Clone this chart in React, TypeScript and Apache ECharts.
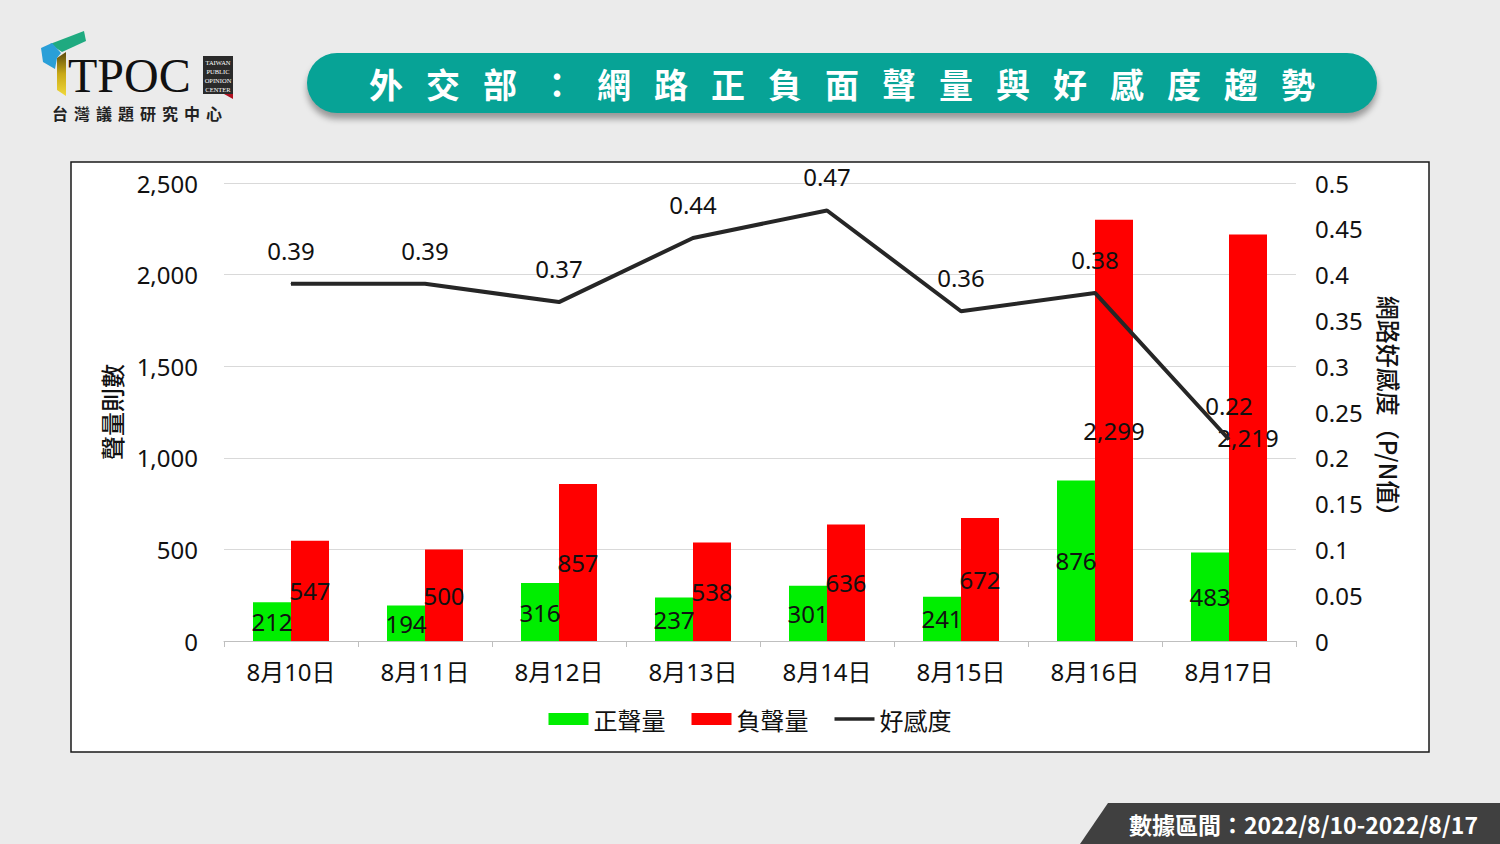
import React, { useEffect, useRef } from "react";
import * as echarts from "echarts";

const categories = ["8月10日", "8月11日", "8月12日", "8月13日", "8月14日", "8月15日", "8月16日", "8月17日"];
const positiveVolume = [212, 194, 316, 237, 301, 241, 876, 483];
const negativeVolume = [547, 500, 857, 538, 636, 672, 2299, 2219];
const favorability = [0.39, 0.39, 0.37, 0.44, 0.47, 0.36, 0.38, 0.22];
const seriesNames = ["正聲量", "負聲量", "好感度"];
const titleText = "外交部：網路正負面聲量與好感度趨勢";
const footerText = "數據區間：2022/8/10-2022/8/17";

const FONT = "'Noto Sans', 'Noto Sans CJK TC', sans-serif";
const CJK = "'Noto Sans CJK TC', 'Noto Sans', sans-serif";

export default function App() {
  const ref = useRef<HTMLDivElement>(null);

  useEffect(() => {
    if (!ref.current) return;
    const chart = echarts.init(ref.current, undefined, { renderer: "svg" });
    const fmt = (v: number) => Number(v).toLocaleString("en-US");
    chart.setOption({
      animation: false,
      backgroundColor: "transparent",
      textStyle: { fontFamily: FONT },
      graphic: [
        {
          type: "rect",
          z: -10,
          shape: { x: 71, y: 162, width: 1358, height: 590 },
          style: { fill: "#ffffff", stroke: "#1a1a1a", lineWidth: 1.5 },
        },
        // logo shapes
        {
          type: "polygon",
          shape: { points: [[50, 44], [84, 31], [86, 41], [62, 52]] },
          style: { fill: "#1faa80" },
        },
        {
          type: "polygon",
          shape: { points: [[41, 48], [52, 43], [61, 53], [57, 58], [55, 69], [43, 62]] },
          style: { fill: "#2a9fd8" },
        },
        {
          type: "polygon",
          shape: { points: [[57, 58], [66, 52], [66, 96], [57, 90]] },
          style: {
            fill: new echarts.graphic.LinearGradient(0, 0, 0, 1, [
              { offset: 0, color: "#5a4a0c" },
              { offset: 0.5, color: "#c9a917" },
              { offset: 1, color: "#f0d83a" },
            ]),
          },
        },
        {
          type: "text",
          style: {
            text: "TPOC",
            x: 68,
            y: 75,
            verticalAlign: "middle",
            fill: "#111111",
            font: "48px 'Liberation Serif', 'DejaVu Serif', serif",
          },
        },
        {
          type: "rect",
          shape: { x: 203, y: 56, width: 30, height: 38 },
          style: { fill: "#2a2a2a" },
        },
        {
          type: "polygon",
          shape: { points: [[224, 94], [233, 94], [233, 99]] },
          style: { fill: "#b01020" },
        },
        {
          type: "text",
          style: {
            text: "TAIWAN\nPUBLIC\nOPINION\nCENTER",
            x: 218,
            y: 58,
            align: "center",
            fill: "#ffffff",
            font: "6.5px 'Liberation Serif', serif",
            lineHeight: 9,
          },
        },
      ],
      legend: {
        bottom: 108,
        left: "center",
        itemWidth: 40,
        itemHeight: 12,
        itemGap: 26,
        textStyle: { fontSize: 24, color: "#111", fontFamily: CJK },
        data: [
          { name: seriesNames[0], icon: "rect" },
          { name: seriesNames[1], icon: "rect" },
          { name: seriesNames[2], icon: "path://M0,0 L40,0 L40,3.5 L0,3.5 Z" },
        ],
      },
      grid: { left: 224, right: 204, top: 183, bottom: 203, containLabel: false },
      xAxis: {
        type: "category",
        data: categories,
        axisLine: { lineStyle: { color: "#bfbfbf", width: 1 } },
        axisTick: { show: true, length: 6, lineStyle: { color: "#bfbfbf" } },
        axisLabel: { fontSize: 24, color: "#111", margin: 18, fontFamily: FONT },
      },
      yAxis: [
        {
          type: "value",
          min: 0,
          max: 2500,
          interval: 500,
          name: "聲量則數",
          nameLocation: "middle",
          nameGap: 101,
          nameRotate: 90,
          nameTextStyle: { fontSize: 24, color: "#111", fontFamily: CJK, fontWeight: 500 },
          axisLine: { show: false },
          axisTick: { show: false },
          axisLabel: { fontSize: 24, color: "#111", margin: 26, formatter: fmt },
          splitLine: { lineStyle: { color: "#d9d9d9", width: 1 } },
        },
        {
          type: "value",
          min: 0,
          max: 0.5,
          interval: 0.05,
          name: "網路好感度（P/N值）",
          nameLocation: "middle",
          nameGap: 82,
          nameRotate: -90,
          nameTextStyle: { fontSize: 24, color: "#111", fontFamily: CJK, fontWeight: 500 },
          axisLine: { show: false },
          axisTick: { show: false },
          axisLabel: {
            fontSize: 24,
            color: "#111",
            margin: 19,
            formatter: (v: number) => String(Math.round(v * 100) / 100),
          },
          splitLine: { show: false },
        },
      ],
      series: [
        {
          name: seriesNames[0],
          type: "bar",
          data: positiveVolume,
          barWidth: 38,
          barGap: "0%",
          itemStyle: { color: "#00ee00" },
          label: { show: true, position: "inside", fontSize: 24, color: "#111", formatter: (p: any) => fmt(p.value) },
        },
        {
          name: seriesNames[1],
          type: "bar",
          data: negativeVolume,
          barWidth: 38,
          barGap: "0%",
          itemStyle: { color: "#ff0000" },
          label: { show: true, position: "inside", fontSize: 24, color: "#111", formatter: (p: any) => fmt(p.value) },
        },
        {
          name: seriesNames[2],
          type: "line",
          yAxisIndex: 1,
          data: favorability,
          symbol: "circle",
          symbolSize: 1,
          showSymbol: true,
          z: 5,
          lineStyle: { color: "#262626", width: 4 },
          itemStyle: { color: "#262626" },
          label: { show: true, position: "top", distance: 21, fontSize: 24, color: "#111" },
        },
      ],
    });
    return () => chart.dispose();
  }, []);

  return (
    <div
      style={{
        position: "fixed",
        left: 0,
        top: 0,
        width: 1500,
        height: 844,
        background: "#ebebeb",
        overflow: "hidden",
      }}
    >
      <div ref={ref} style={{ position: "absolute", left: 0, top: 0, width: 1500, height: 844 }} />
      <div
        style={{
          position: "absolute",
          left: 307,
          top: 53,
          width: 1070,
          height: 60,
          borderRadius: 30,
          background: "#07a396",
          boxShadow: "0 6px 6px rgba(0,0,0,0.35)",
          display: "flex",
          alignItems: "center",
          justifyContent: "center",
          color: "#ffffff",
          fontFamily: CJK,
          fontWeight: 700,
          fontSize: 34,
          letterSpacing: 23,
          paddingLeft: 23,
          boxSizing: "border-box",
          pointerEvents: "none",
        }}
      >
        {titleText}
      </div>
      <div
        style={{
          position: "absolute",
          left: 52,
          top: 103,
          fontFamily: CJK,
          fontWeight: 700,
          fontSize: 16,
          lineHeight: "20px",
          letterSpacing: 6,
          color: "#222",
          pointerEvents: "none",
        }}
      >
        台灣議題研究中心
      </div>
      <div
        style={{
          position: "absolute",
          left: 1080,
          top: 803,
          width: 420,
          height: 41,
          background: "#404040",
          clipPath: "polygon(28px 0, 100% 0, 100% 100%, 0 100%)",
          color: "#ffffff",
          fontFamily: CJK,
          fontWeight: 700,
          fontSize: 23,
          display: "flex",
          alignItems: "center",
          justifyContent: "flex-end",
          paddingRight: 22,
          boxSizing: "border-box",
          pointerEvents: "none",
        }}
      >
        {footerText}
      </div>
    </div>
  );
}
